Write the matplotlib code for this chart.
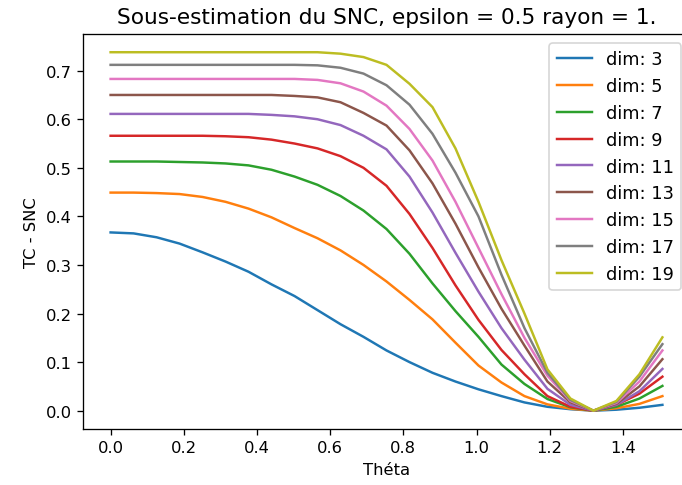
import numpy as np
import matplotlib
matplotlib.use("Agg")
import matplotlib.pyplot as plt

# theta grid: 25 points, step pi/50
theta = np.linspace(0, 24 * np.pi / 50, 25)

dims = [3, 5, 7, 9, 11, 13, 15, 17, 19]

dim3 = [0.367, 0.365, 0.357, 0.344, 0.326, 0.307, 0.286, 0.260, 0.236, 0.207, 0.178, 0.152, 0.124,
        0.100, 0.078, 0.060, 0.044, 0.030, 0.017, 0.008, 0.003, 0.0, 0.002, 0.006, 0.012]
dim5 = [0.449, 0.449, 0.448, 0.446, 0.440, 0.430, 0.416, 0.398, 0.376, 0.355, 0.330, 0.300, 0.266,
        0.228, 0.188, 0.140, 0.093, 0.058, 0.030, 0.013, 0.004, 0.0, 0.005, 0.014, 0.030]
dim7 = [0.513, 0.513, 0.513, 0.512, 0.511, 0.509, 0.505, 0.496, 0.482, 0.465, 0.442, 0.412, 0.374,
        0.323, 0.262, 0.205, 0.152, 0.095, 0.055, 0.024, 0.007, 0.0, 0.008, 0.025, 0.051]
dim9 = [0.566, 0.566, 0.566, 0.566, 0.566, 0.565, 0.563, 0.558, 0.550, 0.540, 0.524, 0.500, 0.463,
        0.405, 0.335, 0.258, 0.187, 0.125, 0.075, 0.030, 0.008, 0.0, 0.012, 0.035, 0.070]
dim11 = [0.611, 0.611, 0.611, 0.611, 0.611, 0.611, 0.611, 0.609, 0.606, 0.600, 0.588, 0.566, 0.538,
         0.482, 0.408, 0.325, 0.245, 0.170, 0.105, 0.045, 0.012, 0.0, 0.012, 0.040, 0.086]
dim13 = [0.650, 0.650, 0.650, 0.650, 0.650, 0.650, 0.650, 0.650, 0.648, 0.645, 0.635, 0.613, 0.587,
         0.536, 0.468, 0.385, 0.295, 0.210, 0.134, 0.060, 0.017, 0.0, 0.014, 0.050, 0.106]
dim15 = [0.683, 0.683, 0.683, 0.683, 0.683, 0.683, 0.683, 0.683, 0.683, 0.681, 0.674, 0.657, 0.628,
         0.580, 0.515, 0.430, 0.335, 0.240, 0.150, 0.072, 0.020, 0.0, 0.016, 0.060, 0.124]
dim17 = [0.712, 0.712, 0.712, 0.712, 0.712, 0.712, 0.712, 0.712, 0.712, 0.711, 0.706, 0.694, 0.670,
         0.630, 0.570, 0.490, 0.400, 0.280, 0.170, 0.078, 0.022, 0.0, 0.018, 0.070, 0.137]
dim19 = [0.738, 0.738, 0.738, 0.738, 0.738, 0.738, 0.738, 0.738, 0.738, 0.738, 0.735, 0.728, 0.712,
         0.673, 0.625, 0.540, 0.430, 0.310, 0.200, 0.085, 0.025, 0.0, 0.020, 0.075, 0.151]

series = [dim3, dim5, dim7, dim9, dim11, dim13, dim15, dim17, dim19]

dpi = 118
fig = plt.figure(figsize=(682 / dpi, 486 / dpi), dpi=dpi)
ax = fig.add_axes([83 / 682, (486 - 429.6) / 486, 607 / 682, 394.3 / 486])

for d, vals in zip(dims, series):
    ax.plot(theta, vals, label="dim: " + str(d))

ax.set_title("Sous-estimation du SNC, epsilon = 0.5 rayon = 1.", fontsize=13.2, pad=7)
ax.set_xlabel("Théta")
ax.set_ylabel("TC - SNC")
ax.legend(loc="upper right", fontsize=10.8)

fig.savefig("out.png", dpi=dpi)
